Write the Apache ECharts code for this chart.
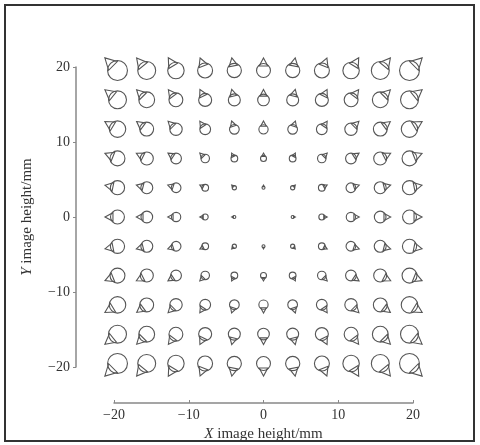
<!DOCTYPE html>
<html>
<head>
<meta charset="utf-8">
<script src="https://cdn.jsdelivr.net/npm/echarts@6/dist/echarts.min.js"></script>
<style>
html, body { margin: 0; padding: 0; background: #fff; }
#main { width: 480px; height: 445px; }
</style>
</head>
<body>
<div id="main"></div>
<script>
// field positions (mm)
var xFields = [-20, -16, -12, -8, -4, 0, 4, 8, 12, 16, 20];
var yFields = [20, 16, 12, 8, 4, 0, -4, -8, -12, -16, -20];
// spot radius (mm on the chart scale), rows follow yFields, columns xFields
var spotRadius = [
    [1.33, 1.20, 1.10, 1.00, 0.95, 0.93, 0.95, 1.00, 1.10, 1.20, 1.33],
    [1.20, 1.06, 0.93, 0.87, 0.80, 0.78, 0.80, 0.87, 0.93, 1.06, 1.20],
    [1.10, 0.93, 0.83, 0.72, 0.65, 0.62, 0.65, 0.72, 0.83, 0.93, 1.10],
    [1.00, 0.87, 0.72, 0.57, 0.45, 0.40, 0.45, 0.57, 0.72, 0.87, 1.00],
    [0.95, 0.80, 0.65, 0.45, 0.28, 0.20, 0.28, 0.45, 0.65, 0.80, 0.95],
    [0.93, 0.78, 0.62, 0.40, 0.20, 0.00, 0.20, 0.40, 0.62, 0.78, 0.93],
    [0.95, 0.80, 0.65, 0.45, 0.28, 0.20, 0.28, 0.45, 0.65, 0.80, 0.95],
    [1.00, 0.87, 0.72, 0.57, 0.45, 0.40, 0.45, 0.57, 0.72, 0.87, 1.00],
    [1.10, 0.93, 0.83, 0.72, 0.65, 0.62, 0.65, 0.72, 0.83, 0.93, 1.10],
    [1.20, 1.06, 0.93, 0.87, 0.80, 0.78, 0.80, 0.87, 0.93, 1.06, 1.20],
    [1.33, 1.20, 1.10, 1.00, 0.95, 0.93, 0.95, 1.00, 1.10, 1.20, 1.33]
];

var spots = [];
for (var i = 0; i < yFields.length; i++) {
    for (var j = 0; j < xFields.length; j++) {
        spots.push([xFields[j], yFields[i], spotRadius[i][j]]);
    }
}

var serif = '"Liberation Serif", "Times New Roman", serif';
function minus(v) { return String(v).replace('-', '\u2212'); }

// coma-like spot: circle plus a tail pointing away from the axis
function renderSpot(params, api) {
    var x = api.value(0), y = api.value(1), r = api.value(2);
    if (!r) return null;
    var p = api.coord([x, y]);
    var rp = api.size([r, 0])[0];
    var d = Math.sqrt(x * x + y * y);
    var ux = x / d, uy = -y / d;
    var vx = -uy, vy = ux;
    var cx = p[0] - 0.5 * rp * ux, cy = p[1] - 0.5 * rp * uy;
    var apex = [cx + 1.8 * rp * ux, cy + 1.8 * rp * uy];
    var c = 0.65, s = 0.62;
    var b1 = [cx + rp * (c * ux + s * vx), cy + rp * (c * uy + s * vy)];
    var b2 = [cx + rp * (c * ux - s * vx), cy + rp * (c * uy - s * vy)];
    var st = { fill: 'none', stroke: '#555', lineWidth: 1.1 };
    return {
        type: 'group',
        children: [
            { type: 'circle', shape: { cx: cx, cy: cy, r: rp }, style: st },
            { type: 'polygon', shape: { points: [apex, b1, b2] }, style: st }
        ]
    };
}

var myChart = echarts.init(document.getElementById('main'));
var option = {
    backgroundColor: '#fff',
    animation: false,
    graphic: [{
        type: 'rect',
        shape: { x: 5, y: 5, width: 469, height: 436 },
        style: { fill: 'none', stroke: '#333', lineWidth: 2 }
    }],
    grid: { left: 114, right: 67, top: 67, bottom: 78, outerBoundsMode: 'none' },
    xAxis: {
        type: 'value',
        min: -20, max: 20, interval: 10,
        offset: 36,
        splitLine: { show: false },
        axisLine: { onZero: false, lineStyle: { color: '#888', width: 1.5 } },
        axisTick: { inside: true, length: 3, lineStyle: { color: '#888' } },
        axisLabel: { color: '#333', fontFamily: serif, fontSize: 14, margin: 5, formatter: minus },
        name: '{i|X} image height/mm',
        nameLocation: 'middle',
        nameGap: 24,
        nameTextStyle: {
            color: '#333', fontFamily: serif, fontSize: 15,
            rich: { i: { fontStyle: 'italic', fontFamily: serif, fontSize: 15, color: '#333' } }
        }
    },
    yAxis: {
        type: 'value',
        min: -20, max: 20, interval: 10,
        offset: 38,
        splitLine: { show: false },
        axisLine: { onZero: false, lineStyle: { color: '#888', width: 1.5 } },
        axisTick: { inside: false, length: 3, lineStyle: { color: '#888' } },
        axisLabel: { color: '#333', fontFamily: serif, fontSize: 14, margin: 6, formatter: minus },
        name: '{i|Y} image height/mm',
        nameLocation: 'middle',
        nameGap: 41,
        nameTextStyle: {
            color: '#333', fontFamily: serif, fontSize: 15,
            rich: { i: { fontStyle: 'italic', fontFamily: serif, fontSize: 15, color: '#333' } }
        }
    },
    series: [{
        type: 'custom',
        renderItem: renderSpot,
        data: spots,
        clip: false
    }]
};
myChart.setOption(option);
</script>
</body>
</html>
